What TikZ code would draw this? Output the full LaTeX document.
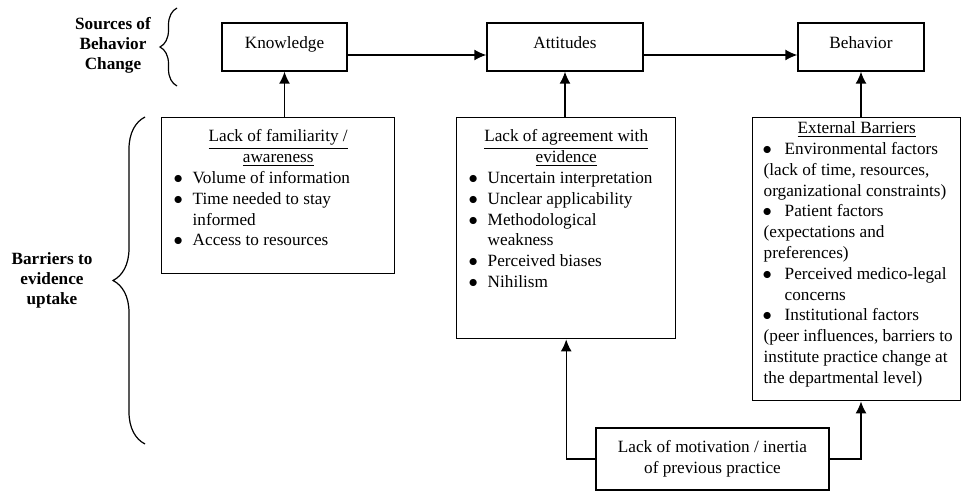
\documentclass[tikz,border=0pt]{standalone}
\usepackage{fontspec}
\setmainfont{Liberation Serif}
\usetikzlibrary{arrows.meta,positioning,decorations.pathreplacing}

\newcommand{\bitem}[1]{\par\hangindent=8.5pt\hangafter=1\makebox[8.5pt][l]{\hspace*{-1.1pt}$\bullet$}#1}
\newcommand{\bpoint}{\makebox[10.5pt][l]{\hspace*{-0.5pt}$\bullet$}}

\begin{document}
\begin{tikzpicture}[x=0.5pt,y=-0.5pt,
  every node/.style={font=\fontsize{8.6}{10.4}\selectfont},
  source/.style={draw,line width=0.7pt,minimum height=24pt,text height=6pt,text depth=4pt},
  barrier/.style={draw,line width=0.7pt,anchor=north west,inner xsep=7pt,inner ysep=6pt},
  sidelabel/.style={align=center,font=\fontsize{8.6}{10}\selectfont\bfseries},
  link/.style={line width=0.7pt,-{Latex[length=6pt,width=5.5pt]}},
  curly/.style={decorate,decoration={brace,amplitude=#1},line width=0.6pt}]

\useasboundingbox (0,0) rectangle (962,491);

% sources of behavior change
\node[source,minimum width=62.5pt] (knowledge) at (284.5,47) {Knowledge};
\node[source,minimum width=78pt] (attitudes) at (565,47) {Attitudes};
\node[source,minimum width=63pt] (behavior) at (861,47) {Behavior};

% barriers
\node[barrier] (familiar) at (161,117) {\parbox[t][66pt][t]{102.5pt}{\raggedright
  {\centering\underline{Lack of familiarity /}\\\underline{awareness}\par}
  \bitem{Volume of information}
  \bitem{Time needed to stay\newline informed}
  \bitem{Access to resources}}};
\node[barrier] (agree) at (456,117) {\parbox[t][98.5pt][t]{95.5pt}{\raggedright
  {\centering\underline{Lack of agreement with}\\\underline{evidence}\par}
  \bitem{Uncertain interpretation}
  \bitem{Unclear applicability}
  \bitem{Methodological\newline weakness}
  \bitem{Perceived biases}
  \bitem{Nihilism}}};
\node[barrier,inner xsep=5.5pt,inner ysep=2pt] (external) at (752,117) {\parbox[t][137.5pt][t]{93pt}{\raggedright
  {\centering\underline{External Barriers}\par}
  \bpoint Environmental factors\\
  (lack of time, resources,\\
  organizational constraints)\\
  \bpoint Patient factors\\
  (expectations and\\
  preferences)\\
  \bpoint Perceived medico-legal\\
  \hspace*{10.5pt}concerns\\
  \bpoint Institutional factors\\
  \mbox{(peer influences, barriers to}\\
  institute practice change at\\
  the departmental level)}};
\node[draw,line width=0.7pt,minimum width=116.5pt,minimum height=31pt,align=center] (motive) at (712.5,459) {Lack of motivation / inertia\\of previous practice};

% side labels
\node[sidelabel] (sources) at (113,45) {Sources of\\Behavior\\Change};
\node[sidelabel] (barriers) at (52,280) {Barriers to\\evidence\\uptake};
\draw[curly=8.5pt] (177,86) -- (177,8);
\draw[curly=16pt] (145,444) -- (145,117);

% arrows
\draw[link] ([yshift=-4pt]knowledge.east) -- ([yshift=-4pt]attitudes.west);
\draw[link] ([yshift=-4pt]attitudes.east) -- ([yshift=-4pt]behavior.west);
\draw[link] (familiar.north -| knowledge.south) -- (knowledge.south);
\draw[link] (agree.north -| attitudes.south) -- (attitudes.south);
\draw[link] (external.north -| behavior.south) -- (behavior.south);
\draw[link] (motive.west) -| (agree.south);
\draw[link] (motive.east) -| (external.south -| behavior.south);

\end{tikzpicture}
\end{document}
